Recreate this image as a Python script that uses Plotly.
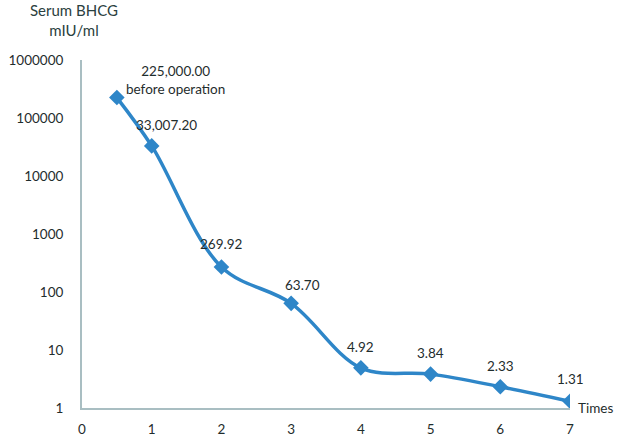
import math
import plotly.graph_objects as go

times = [0.5, 1, 2, 3, 4, 5, 6, 7]
bhcg = [225000, 33007.20, 269.92, 63.70, 4.92, 3.84, 2.33, 1.31]
point_labels = ["225,000.00<br>before operation", "33,007.20", "269.92", "63.70", "4.92", "3.84", "2.33", "1.31"]
y_tickvals = [1, 10, 100, 1000, 10000, 100000, 1000000]
y_ticktext = ["1", "10", "100", "1000", "10000", "100000", "1000000"]
x_tickvals = [0, 1, 2, 3, 4, 5, 6, 7]

label_offsets = [(59, 18), (15, 21), (0, 23), (11, 18), (0, 21), (0, 21), (0, 21), (0, 22)]

color = "#2E86C8"
axis_color = "#A9BEC2"
text_color = "#1F2D2D"
font_family = "Lato, Open Sans, sans-serif"

fig = go.Figure()
fig.add_trace(go.Scatter(
    x=times, y=bhcg, mode="lines+markers",
    line=dict(color=color, width=3.5, shape="spline", smoothing=1.0),
    marker=dict(symbol="diamond", size=12, color=color),
    showlegend=False, hoverinfo="skip",
))

for xv, yv, lab, (dx, dy) in zip(times, bhcg, point_labels, label_offsets):
    fig.add_annotation(x=xv, y=math.log10(yv), text=lab, showarrow=False,
                       xshift=dx, yshift=dy, font=dict(size=13.5, color=text_color, family=font_family),
                       xanchor="center", yanchor="middle")

fig.add_annotation(xref="paper", yref="paper", x=0, y=1, xshift=-8, yshift=61, text="Serum BHCG<br>mIU/ml",
                   showarrow=False, font=dict(size=15, color="#2A4040", family=font_family),
                   xanchor="center", yanchor="top")
fig.add_annotation(xref="paper", yref="paper", x=1.0, y=0, text="Times", xshift=6,
                   showarrow=False, font=dict(size=13.5, color=text_color, family=font_family),
                   xanchor="left", yanchor="middle")

fig.update_layout(
    width=634, height=436,
    margin=dict(l=82, r=64, t=60, b=28),
    paper_bgcolor="white", plot_bgcolor="white",
    font=dict(family=font_family, size=13, color=text_color),
    xaxis=dict(range=[0, 7], tickmode="array", tickvals=x_tickvals, showgrid=False, zeroline=False,
               showline=True, linecolor=axis_color, linewidth=2, ticks="", ticklabelstandoff=8,
               automargin=False, tickfont=dict(size=13.5, color=text_color)),
    yaxis=dict(type="log", range=[0, 6], tickmode="array", tickvals=y_tickvals, ticktext=y_ticktext,
               showgrid=False, zeroline=False, showline=True, linecolor=axis_color, linewidth=2,
               ticks="", ticklabelstandoff=14, automargin=False, tickfont=dict(size=13.5, color=text_color)),
)

fig.write_html("out.html", config={"displayModeBar": False},
               post_script="document.body.style.margin='0';document.body.style.overflow='hidden';")
